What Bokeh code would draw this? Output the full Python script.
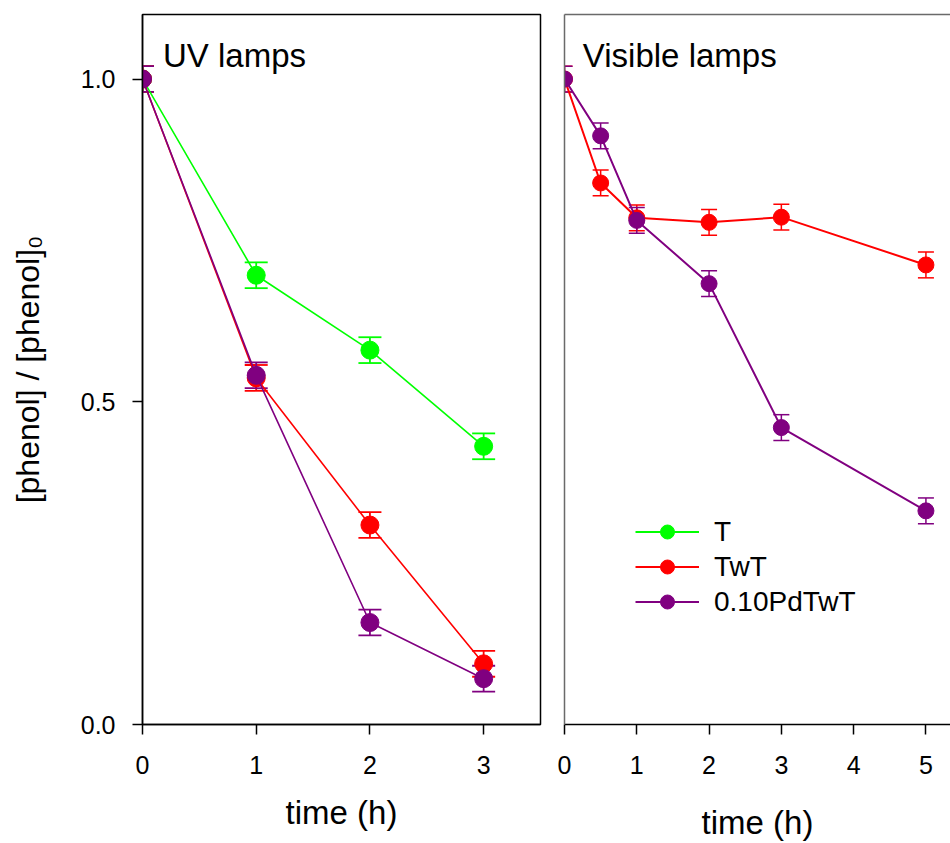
from bokeh.plotting import figure
from bokeh.models import (ColumnDataSource, Whisker, TeeHead, Label, Legend, LegendItem,
                          LinearAxis, FixedTicker, Range1d, NumeralTickFormatter)
from bokeh.layouts import row
from bokeh.embed import file_html
from bokeh.resources import INLINE

# ---------------- data ----------------
uv_time = [0, 1, 2, 3]
uv_T = [1.0, 0.696, 0.580, 0.431]
uv_T_err = [0.02, 0.02, 0.02, 0.02]
uv_TwT = [1.0, 0.537, 0.309, 0.094]
uv_TwT_err = [0.02, 0.02, 0.02, 0.02]
uv_Pd = [1.0, 0.541, 0.158, 0.071]
uv_Pd_err = [0.02, 0.02, 0.02, 0.02]

vis_time = [0, 0.5, 1, 2, 3, 5]
vis_TwT = [1.0, 0.839, 0.785, 0.778, 0.786, 0.712]
vis_TwT_err = [0.02, 0.02, 0.02, 0.02, 0.02, 0.02]
vis_Pd = [1.0, 0.912, 0.781, 0.683, 0.460, 0.331]
vis_Pd_err = [0.02, 0.02, 0.02, 0.02, 0.02, 0.02]

series_names = ["T", "TwT", "0.10PdTwT"]
series_colors = ["#00ff00", "#ff0000", "#800080"]

y_ticks = [0.0, 0.5, 1.0]
uv_x_ticks = [0, 1, 2, 3]
vis_x_ticks = [0, 1, 2, 3, 4, 5]

FONT = "Liberation Sans"
H = 843
TOP = 14
BOTTOM = 119


def src(x, y, e):
    return ColumnDataSource(dict(x=x, y=y,
                                 lower=[a - b for a, b in zip(y, e)],
                                 upper=[a + b for a, b in zip(y, e)]))


def draw(p, x, y, e, color, lw, size, cap, lwe):
    s = src(x, y, e)
    w = Whisker(source=s, base="x", lower="lower", upper="upper", dimension="height",
                line_color=color, line_width=lwe,
                upper_head=TeeHead(size=cap, line_color=color, line_width=lwe),
                lower_head=TeeHead(size=cap, line_color=color, line_width=lwe))
    p.add_layout(w)
    l = p.line("x", "y", source=s, line_color=color, line_width=lw)
    c = p.scatter("x", "y", source=s, marker="circle", size=size,
                  fill_color=color, line_color=color)
    return l, c


def style_common(p):
    p.toolbar_location = None
    p.xgrid.visible = False
    p.ygrid.visible = False
    p.background_fill_color = "white"
    p.border_fill_color = "white"


# ---------------- left panel (UV) ----------------
p1 = figure(width=544, height=H, output_backend="svg", toolbar_location=None,
            x_range=Range1d(0, 3.5), y_range=Range1d(0, 1.1),
            min_border_left=142, min_border_right=4, min_border_top=TOP,
            min_border_bottom=BOTTOM)
style_common(p1)
p1.outline_line_color = "black"
p1.outline_line_width = 1.5
p1.outline_line_alpha = 1.0

draw(p1, uv_time, uv_T, uv_T_err, series_colors[0], 1.6, 18, 23, 1.8)
draw(p1, uv_time, uv_TwT, uv_TwT_err, series_colors[1], 1.6, 18, 23, 1.8)
draw(p1, uv_time, uv_Pd, uv_Pd_err, series_colors[2], 1.6, 18, 23, 1.8)

for ax in (p1.xaxis[0], p1.yaxis[0]):
    ax.axis_line_color = "black"
    ax.axis_line_width = 1.5
    ax.major_tick_line_color = "black"
    ax.major_tick_line_width = 1.5
    ax.major_tick_out = 10
    ax.major_tick_in = 0
    ax.minor_tick_line_color = None
    ax.major_label_text_font = FONT
    ax.major_label_text_font_size = "25px"
    ax.major_label_text_color = "black"
    ax.axis_label_text_font = FONT
    ax.axis_label_text_font_style = "normal"
    ax.axis_label_text_color = "black"

p1.xaxis.ticker = FixedTicker(ticks=uv_x_ticks)
p1.xaxis.major_label_standoff = 21
p1.xaxis.axis_label = "time (h)"
p1.xaxis.axis_label_text_font_size = "33px"
p1.xaxis.axis_label_standoff = 17

p1.yaxis.ticker = FixedTicker(ticks=y_ticks)
p1.yaxis.formatter = NumeralTickFormatter(format="0.0")
p1.yaxis.major_label_standoff = 17
p1.yaxis.axis_label = "[phenol] / [phenol]\u2080"
p1.yaxis.axis_label_text_font_size = "32px"
p1.yaxis.axis_label_standoff = 32

p1.add_layout(Label(x=0.18, y=1.037, text="UV lamps", text_font=FONT,
                    text_font_size="33px", text_color="black",
                    text_baseline="alphabetic", text_align="left"))

# ---------------- right panel (Visible) ----------------
p2 = figure(width=406, height=H, output_backend="svg", toolbar_location=None,
            x_range=Range1d(0, 5.34), y_range=Range1d(0, 1.1),
            min_border_left=20, min_border_right=0, min_border_top=TOP,
            min_border_bottom=BOTTOM)
style_common(p2)
p2.outline_line_color = None

# legend proxy for "T" (no visible-light data for T): a single NaN point draws nothing
t_src = ColumnDataSource(dict(x=[float("nan")], y=[float("nan")]))
lT = p2.line("x", "y", source=t_src, line_color=series_colors[0], line_width=2)
cT = p2.scatter("x", "y", source=t_src, marker="circle", size=16,
                fill_color=series_colors[0], line_color=series_colors[0])
lR, cR = draw(p2, vis_time, vis_TwT, vis_TwT_err, series_colors[1], 2, 16, 16, 1.5)
lP, cP = draw(p2, vis_time, vis_Pd, vis_Pd_err, series_colors[2], 2, 16, 16, 1.5)

xa = p2.xaxis[0]
xa.ticker = FixedTicker(ticks=vis_x_ticks)
xa.axis_line_color = "black"
xa.axis_line_width = 1.5
xa.major_tick_line_color = "black"
xa.major_tick_line_width = 1.5
xa.major_tick_out = 10
xa.major_tick_in = 0
xa.minor_tick_line_color = None
xa.major_label_text_font = FONT
xa.major_label_text_font_size = "25px"
xa.major_label_text_color = "black"
xa.major_label_standoff = 21
xa.axis_label = "time (h)"
xa.axis_label_text_font = FONT
xa.axis_label_text_font_size = "33px"
xa.axis_label_text_font_style = "normal"
xa.axis_label_text_color = "black"
xa.axis_label_standoff = 27

ya = p2.yaxis[0]
ya.ticker = FixedTicker(ticks=[])
ya.axis_line_color = "#6a6a6a"
ya.axis_line_width = 1.5
ya.major_tick_line_color = None
ya.minor_tick_line_color = None

top_ax = LinearAxis(ticker=FixedTicker(ticks=[]), axis_line_color="#6a6a6a",
                    axis_line_width=1.5, major_tick_line_color=None,
                    minor_tick_line_color=None)
p2.add_layout(top_ax, "above")

p2.add_layout(Label(x=0.254, y=1.037, text="Visible lamps", text_font=FONT,
                    text_font_size="33px", text_color="black",
                    text_baseline="alphabetic", text_align="left"))

legend = Legend(items=[
    LegendItem(label=series_names[0], renderers=[lT, cT]),
    LegendItem(label=series_names[1], renderers=[lR, cR]),
    LegendItem(label=series_names[2], renderers=[lP, cP]),
], location=(71, 105), orientation="vertical",
    glyph_width=64, glyph_height=35, label_height=35, label_standoff=15,
    spacing=0, padding=0, margin=0,
    label_text_font=FONT, label_text_font_size="28px", label_text_color="black",
    background_fill_alpha=0, border_line_color=None)
p2.add_layout(legend, "center")

layout = row(p1, p2)
open("out.html", "w").write(file_html(layout, INLINE))
